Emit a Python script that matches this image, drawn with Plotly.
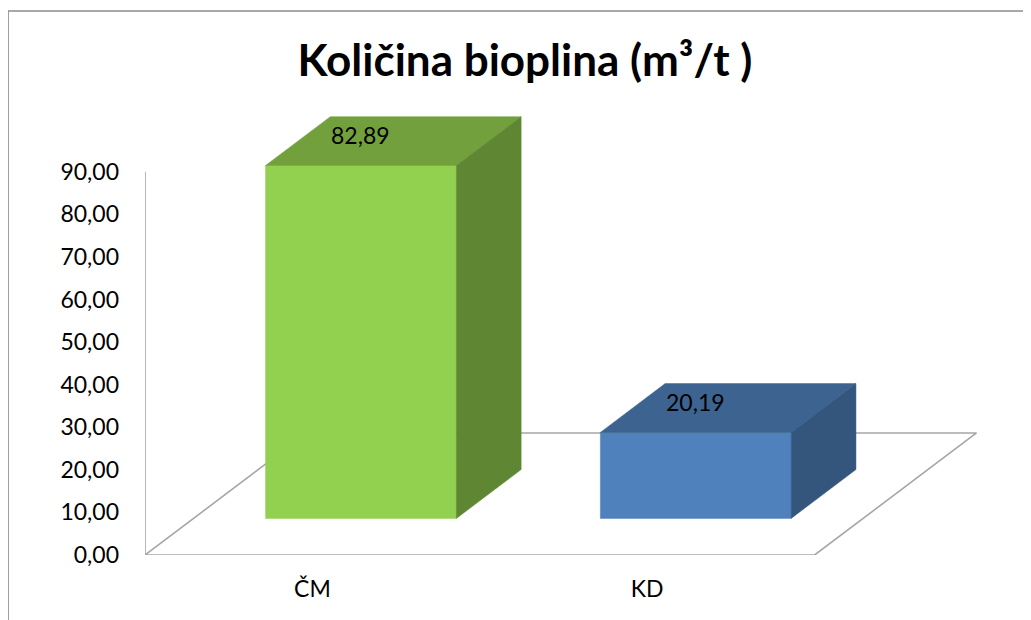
import plotly.graph_objects as go

# ---- data ----
categories = ["ČM", "KD"]
values = [82.89, 20.19]
y_ticks = [0, 10, 20, 30, 40, 50, 60, 70, 80, 90]
title_text = "Količina bioplina (m³/t )"

# ---- styles ----
front_colors = ["#92D050", "#4F81BD"]
top_colors = ["#71A03D", "#3D6391"]
side_colors = ["#5F8733", "#34557C"]
grey = "#A6A6A6"
FONT = "Lato"

# ---- layout geometry (page has an 8px body margin) ----
OFF = 8
W, H = 1031 - OFF, 620 - OFF
ML, MT = 145 - OFF, 108 - OFF
MB = H - (555 - OFF)
MR = W - (ML + 837.5)
X_RANGE = [-0.5, 2.0]
Y_RANGE = [0, 105]
DX, DY = 0.4836, 28.67      # oblique depth of the floor (axis units)
D0, D1 = 0.30, 0.70         # bar depth span (fraction of floor depth)
HALF = 0.285                # half bar width (category units)

fig = go.Figure()

# floor parallelogram
n = len(categories)
fx = [-0.5, n - 0.5, n - 0.5 + DX, -0.5 + DX, -0.5]
fy = [0, 0, DY, DY, 0]
fig.add_trace(go.Scatter(x=fx, y=fy, mode="lines",
                         line=dict(color=grey, width=1.6),
                         hoverinfo="skip", showlegend=False))
# value axis line
fig.add_trace(go.Scatter(x=[-0.5, -0.5], y=[y_ticks[0], y_ticks[-1]], mode="lines",
                         line=dict(color=grey, width=1.6),
                         hoverinfo="skip", showlegend=False))

ddx, ddy = (D1 - D0) * DX, (D1 - D0) * DY
for i, (cat, v) in enumerate(zip(categories, values)):
    x0 = i - HALF + D0 * DX
    x1 = i + HALF + D0 * DX
    yb = D0 * DY
    yt = yb + v
    faces = [
        ([x0, x1, x1, x0, x0], [yb, yb, yt, yt, yb], front_colors[i]),
        ([x0, x1, x1 + ddx, x0 + ddx, x0], [yt, yt, yt + ddy, yt + ddy, yt], top_colors[i]),
        ([x1, x1 + ddx, x1 + ddx, x1, x1], [yb, yb + ddy, yt + ddy, yt, yb], side_colors[i]),
    ]
    for xs, ys, c in faces:
        fig.add_trace(go.Scatter(x=xs, y=ys, mode="lines", fill="toself",
                                 fillcolor=c, line=dict(color=c, width=0.5),
                                 hoverinfo="skip", showlegend=False))
    fig.add_annotation(x=i + D0 * DX, y=v + 0.5 * (D0 + D1) * DY,
                       text=f"{v:.2f}".replace(".", ","), showarrow=False,
                       yshift=6, font=dict(family=FONT, size=23, color="black"))

pw = W - ML - MR
ph = H - MT - MB
# chart border (screen px: left 8, top 11)
fig.add_shape(type="rect", xref="paper", yref="paper",
              x0=(8 - OFF - ML) / pw, x1=(1045 - OFF - ML) / pw,
              y0=(H - MB - 640) / ph, y1=(H - MB - (11 - OFF)) / ph,
              line=dict(color="#8C8C8C", width=1.5), fillcolor="rgba(0,0,0,0)")

fig.update_layout(
    width=W, height=H,
    margin=dict(l=ML, r=MR, t=MT, b=MB, pad=0),
    paper_bgcolor="white", plot_bgcolor="white",
    separators=",.",
    showlegend=False,
    title=dict(text=title_text, xref="container", yref="container",
               x=(525 - OFF) / W, xanchor="center", y=1 - (61 - OFF) / H, yanchor="middle",
               font=dict(family=FONT, size=44, color="black", weight="bold")),
    xaxis=dict(range=X_RANGE, showgrid=False, zeroline=False, showline=False,
               tickvals=list(range(n)), ticktext=categories, ticks="",
               ticklabelstandoff=18,
               tickfont=dict(family=FONT, size=23, color="black"), fixedrange=True),
    yaxis=dict(range=Y_RANGE, showgrid=False, zeroline=False, showline=False,
               tickvals=y_ticks, tickformat=".2f", ticks="",
               ticklabelstandoff=25,
               tickfont=dict(family=FONT, size=23, color="black"), fixedrange=True),
)

fig.write_html("out.html")
